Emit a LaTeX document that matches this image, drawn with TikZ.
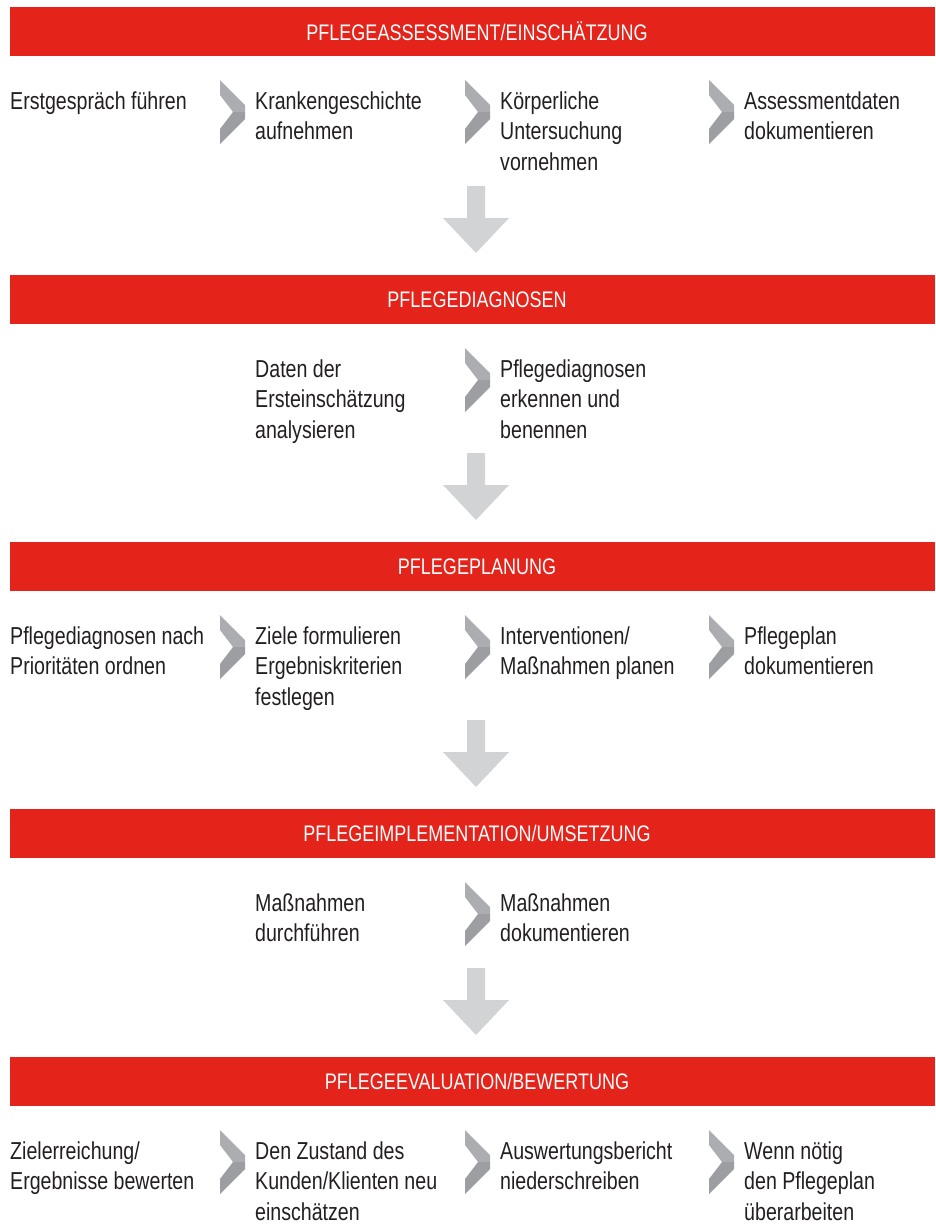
\documentclass[tikz,border=0pt]{standalone}
\usepackage{fontspec}
\setmainfont{Liberation Sans}[FakeStretch=0.8]

\definecolor{pfred}{RGB}{228,36,27}
\definecolor{arrowgrey}{RGB}{209,211,212}
\definecolor{chevlight}{RGB}{172,173,176}
\definecolor{chevdark}{RGB}{156,158,161}
\definecolor{bodytext}{RGB}{35,31,32}

\begin{document}
\begin{tikzpicture}[x=1pt,y=-1pt,
  banner/.style={fill=pfred, text=white, minimum width=925pt, minimum height=49pt,
    inner sep=0pt, font=\fontsize{22.5}{28}\selectfont},
  % multi-line steps are placed by the baseline of their last line
  stepnode/.style={anchor=base west, align=left, inner sep=0pt, text=bodytext,
    font=\fontsize{24.5}{30.5}\selectfont},
  chev/.pic={
    \fill[chevlight] (0,0) -- (25,25) -- (25,32) -- (13,32) -- (0,15) -- cycle;
    \fill[chevdark] (13,32) -- (25,32) -- (25,39) -- (0,64) -- (0,49) -- cycle;
  },
  downarrow/.pic={
    \fill[arrowgrey] (-9,0) -- (9,0) -- (9,32) -- (33,32) -- (0,67) -- (-33,32)
      -- (-9,32) -- cycle;
  }]
\useasboundingbox (0,0) rectangle (935,1224);

% phase banners
\node[banner] (b1) at (472.5,31.5)   {\hspace{9pt}PFLEGEASSESSMENT/EINSCHÄTZUNG};
\node[banner] (b2) at (472.5,299.5)  {\hspace{9pt}PFLEGEDIAGNOSEN};
\node[banner] (b3) at (472.5,566.5)  {\hspace{9pt}PFLEGEPLANUNG};
\node[banner] (b4) at (472.5,833.5)  {\hspace{9pt}PFLEGEIMPLEMENTATION/UMSETZUNG};
\node[banner] (b5) at (472.5,1081.5) {\hspace{9pt}PFLEGEEVALUATION/BEWERTUNG};

% arrows between phases
\pic at (476,186) {downarrow};
\pic at (476,453) {downarrow};
\pic at (476,720) {downarrow};
\pic at (476,968) {downarrow};

% assessment steps
\node[stepnode] (a1) at (10,109)    {Erstgespräch führen};
\node[stepnode] (a2) at (255,139.5) {Krankengeschichte\\aufnehmen};
\node[stepnode] (a3) at (500,170)   {Körperliche\\Untersuchung\\vornehmen};
\node[stepnode] (a4) at (744,139.5) {Assessmentdaten\\dokumentieren};
\pic at (220,80) {chev};
\pic at (465,80) {chev};
\pic at (709,80) {chev};

% diagnosis steps
\node[stepnode] (d1) at (255,438) {Daten der\\Ersteinschätzung\\analysieren};
\node[stepnode] (d2) at (500,438) {Pflegediagnosen\\erkennen und\\benennen};
\pic at (465,348) {chev};

% planning steps
\node[stepnode] (p1) at (10,674.5)  {Pflegediagnosen nach\\Prioritäten ordnen};
\node[stepnode] (p2) at (255,705)   {Ziele formulieren\\Ergebniskriterien\\festlegen};
\node[stepnode] (p3) at (500,674.5) {Interventionen/\\Maßnahmen planen};
\node[stepnode] (p4) at (744,674.5) {Pflegeplan\\dokumentieren};
\pic at (220,615) {chev};
\pic at (465,615) {chev};
\pic at (709,615) {chev};

% implementation steps
\node[stepnode] (i1) at (255,941.5) {Maßnahmen\\durchführen};
\node[stepnode] (i2) at (500,941.5) {Maßnahmen\\dokumentieren};
\pic at (465,882) {chev};

% evaluation steps
\node[stepnode] (e1) at (10,1189.5)  {Zielerreichung/\\Ergebnisse bewerten};
\node[stepnode] (e2) at (255,1220)   {Den Zustand des\\Kunden/Klienten neu\\einschätzen};
\node[stepnode] (e3) at (500,1189.5) {Auswertungsbericht\\niederschreiben};
\node[stepnode] (e4) at (744,1220)   {Wenn nötig\\den Pflegeplan\\überarbeiten};
\pic at (220,1130) {chev};
\pic at (465,1130) {chev};
\pic at (709,1130) {chev};
\end{tikzpicture}
\end{document}
